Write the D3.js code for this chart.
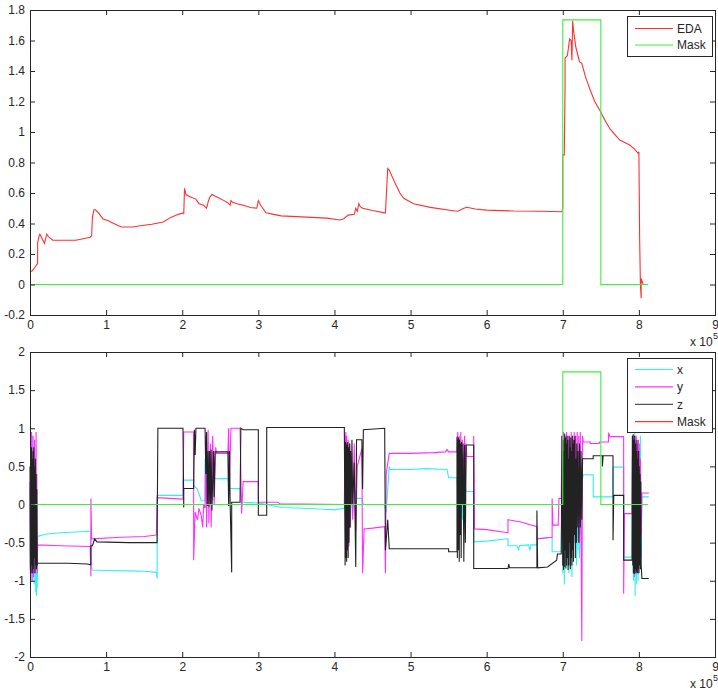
<!DOCTYPE html>
<html>
<head>
<meta charset="utf-8">
<script src="https://cdn.jsdelivr.net/npm/d3@7"></script>
<style>
  html, body { margin: 0; padding: 0; background: #fff; }
  svg { display: block; }
  text { font-family: "Liberation Sans", Arial, sans-serif; fill: #262626; }
</style>
</head>
<body>
<svg id="chart" width="718" height="693"></svg>
<script>
// ---------------- DATA (x in units of 10^5 samples) ----------------
const xTicks = [0, 1, 2, 3, 4, 5, 6, 7, 8, 9];
const edaTicksY = [-0.2, 0, 0.2, 0.4, 0.6, 0.8, 1, 1.2, 1.4, 1.6, 1.8];
const accTicksY = [-2, -1.5, -1, -0.5, 0, 0.5, 1, 1.5, 2];

const eda = [[0,0.084],[0.03,0.09],[0.06,0.11],[0.09,0.13],[0.1,0.14],[0.1,0.27],[0.12,0.32],[0.13,0.33],[0.15,0.31],[0.19,0.27],[0.22,0.33],[0.25,0.31],[0.3,0.29],[0.45,0.29],[0.6,0.29],[0.7,0.30],[0.79,0.31],[0.81,0.32],[0.82,0.44],[0.84,0.49],[0.86,0.49],[0.9,0.47],[0.96,0.43],[1.02,0.42],[1.1,0.40],[1.2,0.377],[1.35,0.377],[1.45,0.385],[1.6,0.395],[1.75,0.41],[1.85,0.44],[1.95,0.46],[2.02,0.47],[2.02,0.46],[2.03,0.63],[2.05,0.59],[2.1,0.575],[2.18,0.56],[2.22,0.53],[2.28,0.52],[2.32,0.50],[2.34,0.54],[2.36,0.57],[2.39,0.59],[2.45,0.575],[2.55,0.55],[2.6,0.535],[2.63,0.52],[2.64,0.55],[2.66,0.54],[2.72,0.53],[2.8,0.52],[2.9,0.505],[2.98,0.50],[3.0,0.55],[3.03,0.52],[3.1,0.47],[3.2,0.46],[3.3,0.45],[3.5,0.445],[3.7,0.44],[3.9,0.435],[4.07,0.423],[4.12,0.43],[4.18,0.455],[4.26,0.46],[4.28,0.50],[4.3,0.48],[4.32,0.53],[4.34,0.51],[4.37,0.50],[4.5,0.485],[4.66,0.47],[4.67,0.47],[4.70,0.76],[4.72,0.75],[4.80,0.66],[4.86,0.6],[4.91,0.565],[5.04,0.53],[5.26,0.506],[5.56,0.484],[5.62,0.48],[5.7,0.50],[5.74,0.506],[5.85,0.495],[6.0,0.488],[6.35,0.482],[6.7,0.48],[6.99,0.477],[7.0,0.50],[7.0,0.85],[7.02,0.85],[7.03,1.30],[7.03,1.485],[7.06,1.5],[7.09,1.61],[7.11,1.60],[7.12,1.47],[7.13,1.73],[7.14,1.67],[7.17,1.56],[7.2,1.50],[7.22,1.46],[7.25,1.45],[7.3,1.36],[7.36,1.275],[7.42,1.2],[7.49,1.14],[7.55,1.08],[7.62,1.02],[7.7,0.975],[7.75,0.947],[7.82,0.93],[7.88,0.915],[7.94,0.89],[7.99,0.86],[8.0,0.87],[8.01,0.30],[8.02,0.0],[8.03,-0.09],[8.03,0.04],[8.05,0.01],[8.06,0.0]];

const maskTop = [[0,0],[7.0,0],[7.0,1.735],[7.5,1.735],[7.5,0],[8.12,0]];
const maskBottom = [[0,0],[7.0,0],[7.0,1.74],[7.5,1.74],[7.5,0],[8.12,0]];

const accX = [[0,0.2],[0.005,-0.8],[0.01,0.5],[0.015,-0.9],[0.02,0.7],[0.025,-0.6],[0.03,0.9],[0.035,-1.0],[0.04,0.4],[0.045,-0.85],[0.05,0.6],[0.055,-1.05],[0.06,0.3],[0.065,-0.9],[0.07,0.5],[0.075,-1.15],[0.08,0.2],[0.085,-1.2],[0.09,-0.5],[0.095,-1.1],[0.1,-0.42],[0.2,-0.39],[0.4,-0.37],[0.6,-0.36],[0.79,-0.35],[0.8,-0.35],[0.8,-0.8],[0.82,-0.86],[1.0,-0.865],[1.3,-0.87],[1.5,-0.875],[1.66,-0.89],[1.67,-0.97],[1.67,0.12],[1.8,0.12],[2.01,0.12],[2.01,0.32],[2.15,0.32],[2.15,0.25],[2.2,0.2],[2.25,0.05],[2.3,0.05],[2.3,0.6],[2.32,0.1],[2.34,0.5],[2.36,0.2],[2.38,0.4],[2.4,0.05],[2.42,0.34],[2.6,0.34],[2.62,0.21],[2.76,0.21],[2.78,0.03],[3.0,0.02],[3.11,0.0],[3.3,-0.04],[3.6,-0.05],[3.8,-0.06],[4.0,-0.07],[4.13,-0.05],[4.14,0.5],[4.145,-0.3],[4.15,0.6],[4.155,-0.2],[4.16,0.55],[4.17,-0.25],[4.18,0.4],[4.19,-0.3],[4.2,0.45],[4.21,-0.2],[4.22,0.3],[4.24,-0.1],[4.27,0.2],[4.29,0.08],[4.36,0.08],[4.38,0.0],[4.5,0.0],[4.66,0.0],[4.68,-0.1],[4.72,0.5],[4.73,0.46],[5.0,0.46],[5.2,0.47],[5.48,0.46],[5.5,0.35],[5.61,0.35],[5.62,0.1],[5.63,0.5],[5.64,-0.1],[5.65,0.4],[5.66,-0.15],[5.67,0.3],[5.68,-0.2],[5.7,0.35],[5.71,-0.2],[5.72,0.2],[5.74,0.17],[5.83,0.17],[5.83,-0.49],[6.0,-0.48],[6.28,-0.45],[6.28,-0.54],[6.4,-0.54],[6.42,-0.6],[6.43,-0.54],[6.55,-0.53],[6.57,-0.6],[6.58,-0.53],[6.66,-0.53],[6.66,-0.45],[6.86,-0.43],[6.86,-0.62],[6.98,-0.62],[6.99,0.3],[7.0,-0.9],[7.01,0.6],[7.02,-1.05],[7.03,0.8],[7.04,-0.8],[7.05,0.9],[7.06,-0.6],[7.07,0.5],[7.08,-0.9],[7.09,0.7],[7.1,-0.5],[7.11,0.4],[7.12,-0.95],[7.13,0.6],[7.14,-0.7],[7.15,0.8],[7.16,-0.5],[7.17,0.5],[7.18,-0.8],[7.19,0.3],[7.2,-0.6],[7.21,0.4],[7.22,-0.7],[7.23,0.2],[7.24,-0.4],[7.25,0.3],[7.27,0.39],[7.4,0.39],[7.4,0.1],[7.66,0.1],[7.66,0.49],[7.8,0.49],[7.8,-0.69],[7.91,-0.69],[7.915,0.6],[7.92,-0.9],[7.925,0.8],[7.93,-1.0],[7.935,0.9],[7.94,-0.85],[7.945,0.95],[7.95,-1.2],[7.955,0.85],[7.96,-0.9],[7.965,0.7],[7.97,-1.05],[7.975,0.8],[7.98,-0.8],[7.985,0.6],[7.99,-1.0],[7.995,0.8],[8.0,-0.9],[8.005,0.7],[8.01,-0.7],[8.02,0.9],[8.03,-0.7],[8.04,0.1],[8.13,0.1]];

const accY = [[0,0.3],[0.005,-0.9],[0.01,0.8],[0.015,-0.7],[0.02,0.95],[0.025,-1.0],[0.03,0.6],[0.035,-0.8],[0.04,0.9],[0.045,-0.95],[0.05,0.7],[0.055,-0.6],[0.06,0.85],[0.065,-0.9],[0.07,0.5],[0.075,-0.85],[0.08,0.95],[0.085,-0.7],[0.09,0.4],[0.095,-0.9],[0.1,-0.53],[0.4,-0.54],[0.79,-0.55],[0.8,-0.94],[0.8,0.08],[0.81,-0.45],[1.2,-0.43],[1.5,-0.42],[1.66,-0.4],[1.67,0.09],[2.01,0.07],[2.02,0.95],[2.15,0.95],[2.15,-0.73],[2.17,-0.1],[2.2,-0.2],[2.22,-0.05],[2.25,-0.15],[2.27,-0.3],[2.28,0.0],[2.3,-0.05],[2.31,0.9],[2.32,-0.3],[2.34,0.98],[2.35,-0.25],[2.37,0.8],[2.38,-0.3],[2.4,0.9],[2.42,0.0],[2.44,0.75],[2.45,0.67],[2.6,0.67],[2.61,1.0],[2.62,0.2],[2.64,1.0],[2.76,1.0],[2.78,-0.12],[2.8,0.3],[3.0,0.3],[3.0,0.03],[3.26,0.03],[3.28,0.01],[4.13,0.0],[4.14,0.9],[4.145,-0.4],[4.15,0.95],[4.155,-0.3],[4.16,0.9],[4.17,-0.35],[4.18,0.85],[4.19,-0.55],[4.2,0.8],[4.21,-0.3],[4.22,0.7],[4.24,-0.2],[4.26,0.8],[4.28,-0.35],[4.3,0.5],[4.36,0.73],[4.37,-0.9],[4.39,-0.32],[4.5,-0.31],[4.66,-0.29],[4.67,-0.9],[4.68,0.4],[4.72,0.67],[5.0,0.67],[5.3,0.68],[5.46,0.69],[5.48,0.72],[5.5,0.69],[5.61,0.69],[5.62,0.95],[5.63,0.2],[5.64,0.9],[5.65,0.1],[5.66,0.95],[5.67,0.0],[5.68,0.85],[5.7,0.3],[5.71,0.9],[5.72,0.2],[5.73,0.8],[5.74,0.63],[5.83,0.63],[5.83,0.9],[5.84,-0.32],[6.0,-0.33],[6.28,-0.37],[6.28,-0.2],[6.45,-0.23],[6.66,-0.29],[6.66,-0.45],[6.86,-0.43],[6.86,0.08],[6.87,-0.27],[6.94,-0.27],[6.95,0.08],[6.98,0.08],[6.99,0.9],[7.0,-0.5],[7.01,0.95],[7.02,-0.6],[7.03,0.9],[7.04,-0.7],[7.05,0.95],[7.06,-0.4],[7.07,0.9],[7.08,-0.65],[7.09,0.85],[7.1,-0.3],[7.11,0.95],[7.12,-0.55],[7.13,0.9],[7.14,-0.6],[7.15,0.95],[7.16,-0.4],[7.17,0.9],[7.18,-0.5],[7.19,0.95],[7.2,-0.2],[7.21,0.9],[7.22,-0.5],[7.23,0.95],[7.24,-0.4],[7.25,-1.79],[7.26,0.9],[7.27,0.82],[7.36,0.82],[7.36,0.8],[7.48,0.8],[7.48,0.82],[7.6,0.82],[7.6,0.94],[7.62,0.89],[7.8,0.89],[7.8,-1.17],[7.81,-0.12],[7.91,-0.12],[7.915,0.9],[7.92,-0.6],[7.925,0.85],[7.93,-0.8],[7.935,0.8],[7.94,-0.95],[7.945,0.9],[7.95,-0.7],[7.955,0.85],[7.96,-0.9],[7.965,0.9],[7.97,-0.5],[7.975,0.8],[7.98,-0.85],[7.985,0.7],[7.99,-0.9],[7.995,0.85],[8.0,-0.6],[8.005,0.8],[8.01,-0.7],[8.02,0.6],[8.03,-0.4],[8.04,0.15],[8.13,0.15]];

const accZ = [[0,0.5],[0.005,-0.85],[0.01,0.7],[0.015,-0.9],[0.02,0.75],[0.025,-0.8],[0.03,0.6],[0.035,-0.9],[0.04,0.7],[0.045,-0.85],[0.05,0.75],[0.055,-0.7],[0.06,0.5],[0.065,-0.9],[0.07,0.6],[0.075,-0.8],[0.08,0.4],[0.085,-0.85],[0.09,0.2],[0.095,-0.8],[0.1,-0.77],[0.5,-0.77],[0.75,-0.78],[0.8,-0.79],[0.8,-0.54],[0.82,-0.54],[0.85,-0.45],[0.88,-0.49],[1.3,-0.5],[1.67,-0.5],[1.68,1.0],[2.01,1.0],[2.02,-0.04],[2.02,0.21],[2.15,0.21],[2.16,0.98],[2.17,0.65],[2.18,1.0],[2.3,1.0],[2.31,0.4],[2.32,0.95],[2.33,-0.02],[2.34,0.7],[2.35,-0.03],[2.36,0.7],[2.37,0.0],[2.38,0.72],[2.39,-0.08],[2.41,0.7],[2.42,0.1],[2.43,0.69],[2.6,0.69],[2.61,-0.02],[2.62,0.7],[2.63,0.0],[2.65,-0.89],[2.65,0.03],[2.76,0.03],[2.77,1.0],[2.8,0.98],[3.0,0.98],[3.0,-0.14],[3.11,-0.14],[3.11,1.01],[4.13,1.01],[4.14,-0.8],[4.145,0.82],[4.15,-0.7],[4.155,0.8],[4.16,-0.75],[4.165,0.78],[4.17,-0.6],[4.175,0.82],[4.18,-0.7],[4.185,0.75],[4.19,-0.5],[4.2,0.8],[4.205,-0.3],[4.21,0.7],[4.22,0.0],[4.23,0.85],[4.24,0.0],[4.26,0.55],[4.28,-0.82],[4.29,0.85],[4.36,0.85],[4.37,0.2],[4.38,0.98],[4.66,1.0],[4.67,-0.6],[4.7,-0.2],[4.72,-0.58],[5.2,-0.58],[5.5,-0.58],[5.5,-0.62],[5.61,-0.62],[5.61,0.89],[5.615,-0.7],[5.62,0.85],[5.625,-0.6],[5.63,0.88],[5.64,-0.75],[5.645,0.85],[5.65,-0.4],[5.66,0.8],[5.665,-0.7],[5.67,0.82],[5.68,0.0],[5.69,0.8],[5.7,-0.75],[5.71,0.78],[5.72,-0.5],[5.73,0.78],[5.74,0.78],[5.83,0.78],[5.83,-0.84],[6.28,-0.84],[6.29,-0.78],[6.3,-0.83],[6.66,-0.83],[6.66,-0.08],[6.67,-0.83],[6.8,-0.82],[6.92,-0.73],[6.93,-0.65],[6.98,-0.65],[6.99,0.9],[7.0,-0.8],[7.005,0.85],[7.01,-0.86],[7.015,0.7],[7.02,-0.82],[7.025,0.93],[7.03,-0.6],[7.035,0.88],[7.04,-0.84],[7.045,0.8],[7.05,-0.8],[7.055,0.9],[7.06,-0.7],[7.065,0.85],[7.07,-0.86],[7.075,0.6],[7.08,-0.8],[7.085,0.9],[7.09,-0.5],[7.095,0.75],[7.1,-0.85],[7.105,0.88],[7.11,-0.7],[7.115,0.7],[7.12,-0.8],[7.125,0.9],[7.13,-0.6],[7.135,0.8],[7.14,-0.75],[7.145,0.85],[7.15,-0.4],[7.16,0.9],[7.165,-0.7],[7.17,0.6],[7.18,-0.5],[7.185,0.8],[7.19,-0.3],[7.2,0.7],[7.21,-0.5],[7.22,0.8],[7.23,-0.3],[7.24,0.7],[7.25,-0.2],[7.26,0.6],[7.27,0.6],[7.4,0.6],[7.4,0.64],[7.52,0.64],[7.52,0.5],[7.53,0.64],[7.66,0.64],[7.66,-0.47],[7.67,0.12],[7.8,0.12],[7.8,-0.73],[7.91,-0.73],[7.915,0.9],[7.92,-0.8],[7.925,0.92],[7.93,-0.9],[7.935,0.85],[7.94,-0.91],[7.945,0.9],[7.95,-0.85],[7.955,0.8],[7.96,-0.9],[7.965,0.7],[7.97,-0.88],[7.975,0.85],[7.98,-0.9],[7.985,0.6],[7.99,-0.85],[7.995,0.7],[8.0,-0.9],[8.005,0.5],[8.01,-0.8],[8.015,0.4],[8.02,-0.85],[8.025,0.3],[8.03,-0.8],[8.04,-0.97],[8.13,-0.97]];

const topLegend = ["EDA", "Mask"];
const bottomLegend = ["x", "y", "z", "Mask"];

// ---------------- STYLE ----------------
const C = { red: "#ff3030", green: "#3cf03c", cyan: "#30f0f0", magenta: "#ff30ff", black: "#222222", axis: "#262626" };

const svg = d3.select("#chart");
const L = 30, R = 715;

function panel(y0, y1, yDomain, yTicks, series, legendItems, legendBox) {
  const x = d3.scaleLinear().domain([0, 9]).range([L, R]);
  const y = d3.scaleLinear().domain(yDomain).range([y1, y0]);
  const g = svg.append("g");
  g.append("rect").attr("x", L).attr("y", y0).attr("width", R - L).attr("height", y1 - y0).attr("fill", "#fff");

  const line = d3.line().x(d => x(d[0])).y(d => y(d[1]));
  series.forEach(s => {
    g.append("path").datum(s.data).attr("d", line)
      .attr("fill", "none").attr("stroke", s.color).attr("stroke-width", 1.1)
      .attr("stroke-linejoin", "miter");
  });

  const fmt = d => String(d);
  const ax = (axis, tx, ty) => {
    const a = g.append("g").attr("transform", `translate(${tx},${ty})`).call(axis);
    a.select(".domain").remove();
    a.selectAll("line").attr("stroke", C.axis);
    a.selectAll("text").attr("fill", C.axis).style("font-size", "12px").style("font-family", '"Liberation Sans", Arial, sans-serif');
    return a;
  };
  ax(d3.axisBottom(x).tickValues(xTicks).tickSize(-5).tickPadding(5).tickFormat(fmt), 0, y1);
  ax(d3.axisTop(x).tickValues(xTicks).tickSize(-5).tickFormat(""), 0, y0);
  ax(d3.axisLeft(y).tickValues(yTicks).tickSize(-5).tickPadding(5).tickFormat(fmt), L, 0);
  ax(d3.axisRight(y).tickValues(yTicks).tickSize(-5).tickFormat(""), R, 0);

  g.append("rect").attr("x", L + 0.5).attr("y", y0 + 0.5).attr("width", R - L).attr("height", y1 - y0)
    .attr("fill", "none").attr("stroke", C.axis).attr("stroke-width", 1);

  // exponent label
  g.append("text").attr("x", 690).attr("y", y1 + 31).style("font-size", "12px").text("x 10");
  g.append("text").attr("x", 713).attr("y", y1 + 24).style("font-size", "9px").text("5");

  // legend
  const lg = g.append("g");
  lg.append("rect").attr("x", legendBox.x + 0.5).attr("y", legendBox.y + 0.5)
    .attr("width", legendBox.w).attr("height", legendBox.h)
    .attr("fill", "#fff").attr("stroke", C.axis);
  legendItems.forEach((it, i) => {
    const yy = legendBox.first + i * legendBox.step;
    lg.append("line").attr("x1", 635).attr("x2", 673).attr("y1", yy).attr("y2", yy)
      .attr("stroke", it.color).attr("stroke-width", 1.2);
    lg.append("text").attr("x", 677).attr("y", yy).attr("dy", "0.35em")
      .style("font-size", "12px").attr("fill", C.axis).text(it.label);
  });
}

panel(10, 315, [-0.2, 1.8], edaTicksY,
  [{ data: eda, color: C.red }, { data: maskTop, color: C.green }],
  [{ label: topLegend[0], color: C.red }, { label: topLegend[1], color: C.green }],
  { x: 627, y: 16, w: 85, h: 40, first: 28.5, step: 16.5 });

panel(352, 657, [-2, 2], accTicksY,
  [{ data: accX, color: C.cyan }, { data: accY, color: C.magenta }, { data: accZ, color: C.black }, { data: maskBottom, color: C.green }],
  [{ label: bottomLegend[0], color: C.cyan }, { label: bottomLegend[1], color: C.magenta },
   { label: bottomLegend[2], color: "#555" }, { label: bottomLegend[3], color: C.red }],
  { x: 627, y: 358, w: 85, h: 74, first: 369.5, step: 17.4 });
</script>
</body>
</html>
